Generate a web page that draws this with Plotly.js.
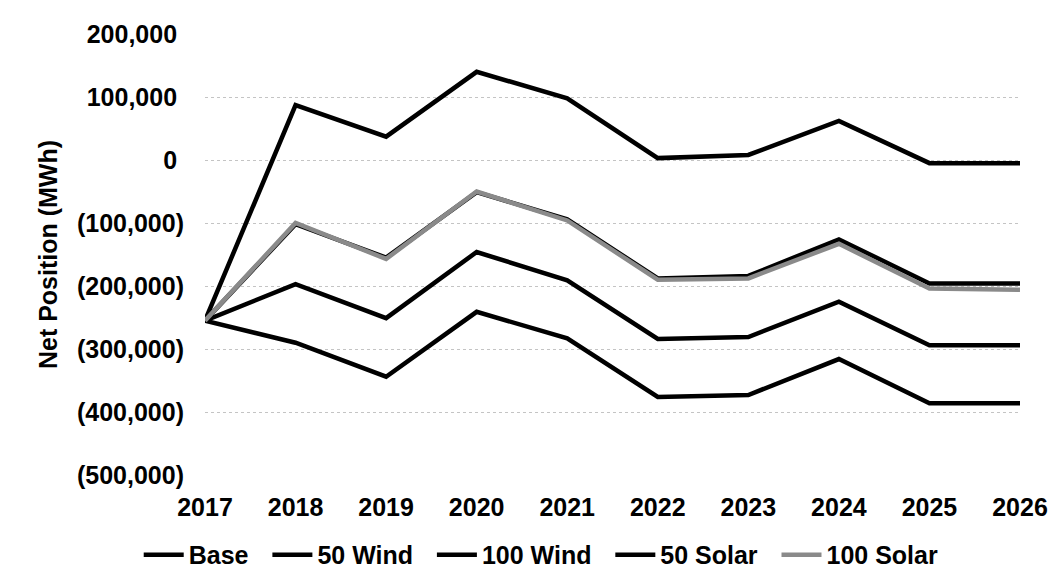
<!DOCTYPE html>
<html>
<head>
<meta charset="utf-8">
<script src="https://cdn.plot.ly/plotly-3.0.1.min.js"></script>
<style>html,body{margin:0;padding:0;background:#fff;}#chart{width:1055px;height:586px;}</style>
</head>
<body>
<div id="chart"></div>
<script>
const years = [2017, 2018, 2019, 2020, 2021, 2022, 2023, 2024, 2025, 2026];
const seriesNames = ["Base", "50 Wind", "100 Wind", "50 Solar", "100 Solar"];
const base      = [-255000, -290000, -344000, -241000, -283000, -376000, -373000, -316000, -386000, -386000];
const wind50    = [-255000, -102000, -155000, -51000, -94000, -188000, -184000, -126000, -196000, -196000];
const wind100   = [-255000, 87000, 37000, 140000, 98000, 3000, 8000, 62000, -5000, -5000];
const solar50   = [-255000, -197000, -251000, -146000, -191000, -284000, -281000, -225000, -294000, -294000];
const solar100  = [-255000, -100000, -157000, -50000, -96000, -190000, -188000, -133000, -204000, -206000];
const yTickVals = [200000, 100000, 0, -100000, -200000, -300000, -400000, -500000];
const yTickText = ["200,000\u00A0", "100,000\u00A0", "0\u00A0", "(100,000)", "(200,000)", "(300,000)", "(400,000)", "(500,000)"];

const values = [base, wind50, wind100, solar50, solar100];
const colors = ["#000000", "#000000", "#000000", "#000000", "#8a8a8a"];

const traces = values.map((v, i) => ({
  x: years, y: v,
  name: seriesNames[i] + (i < seriesNames.length - 1 ? "\u00A0\u00A0" : ""),
  type: "scatter", mode: "lines",
  line: {color: colors[i], width: 4.5}
}));

const fnt = {family: "Liberation Sans, Arial, sans-serif", size: 25, color: "#000", weight: "bold"};

const layout = {
  width: 1055, height: 586,
  margin: {l: 205, r: 35, t: 34, b: 111},
  paper_bgcolor: "#fff", plot_bgcolor: "#fff",
  font: fnt,
  showlegend: true,
  legend: {orientation: "h", xref: "container", yref: "container",
           x: 0.513, xanchor: "center", y: 0.053, yanchor: "middle",
           font: fnt, itemwidth: 40, tracegroupgap: 0},
  xaxis: {range: [2017, 2026], tickvals: years, ticktext: years.map(String),
          showgrid: false, zeroline: false, showline: false, ticks: "",
          ticklabelstandoff: 15, tickfont: fnt, fixedrange: true, automargin: false},
  yaxis: {range: [-500000, 200000], tickvals: yTickVals, ticktext: yTickText,
          showgrid: true, gridcolor: "#c4c4c4", griddash: "dot", gridwidth: 1,
          zeroline: false, showline: false, ticks: "", ticklabelstandoff: 20,
          tickfont: fnt, automargin: false,
          title: {text: "Net Position (MWh)", font: fnt, standoff: 12}}
};

Plotly.newPlot("chart", traces, layout, {displayModeBar: false, staticPlot: true});
</script>
</body>
</html>
